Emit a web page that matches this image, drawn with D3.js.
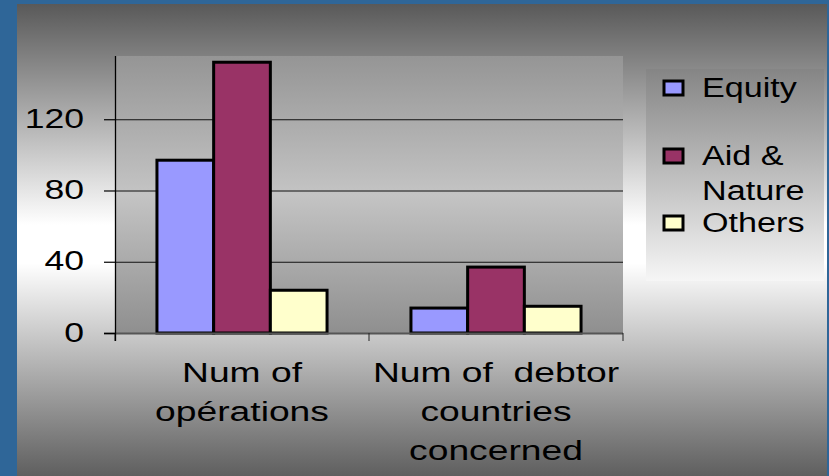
<!DOCTYPE html>
<html>
<head>
<meta charset="utf-8">
<script src="https://cdn.jsdelivr.net/npm/d3@7"></script>
<style>
  html, body { margin: 0; padding: 0; background: #2f6698; }
  svg { display: block; }
  text { font-family: "Liberation Sans", Arial, sans-serif; fill: #000; }
</style>
</head>
<body>
<svg id="chart" width="829" height="476"></svg>
<script>
// Chart data
const categories = ["Num of opérations", "Num of debtor countries concerned"];
const categoryLines = [["Num of", "opérations"], ["Num of  debtor", "countries", "concerned"]];
const seriesNames = ["Equity", "Aid & Nature", "Others"];
const seriesLegendLines = [["Equity"], ["Aid &", "Nature"], ["Others"]];
const equityValues = [97, 14];
const aidNatureValues = [152, 37];
const othersValues = [24, 15];
const yTickValues = [0, 40, 80, 120];
const seriesColors = ["#9999ff", "#993366", "#ffffcc"];

const seriesValues = [equityValues, aidNatureValues, othersValues];

const svg = d3.select("#chart");
const W = 829, H = 476;
const plot = { left: 115, top: 56, right: 623, bottom: 333 };
const FONT = 28, STRETCH = 1.27;

// Gradients
const defs = svg.append("defs");
function vGrad(id, stops) {
  const g = defs.append("linearGradient").attr("id", id)
    .attr("x1", 0).attr("y1", 0).attr("x2", 0).attr("y2", 1);
  stops.forEach(([o, c]) => g.append("stop").attr("offset", o).attr("stop-color", c));
}
vGrad("panelGrad", [[0, "#595959"], [0.46, "#ffffff"], [0.54, "#ffffff"], [1, "#595959"]]);
vGrad("plotGrad", [[0, "#959595"], [0.5, "#c4c4c4"], [1, "#8f8f8f"]]);
vGrad("legendGrad", [[0, "#858585"], [1, "#f6f6f6"]]);

// Blue frame and grey panel
svg.append("rect").attr("width", W).attr("height", H).attr("fill", "#2f6698");
svg.append("rect").attr("x", 17).attr("y", 4).attr("width", 810).attr("height", 480)
  .attr("fill", "url(#panelGrad)");

// Scales
const x0 = d3.scaleBand().domain(categories).range([plot.left, plot.right]).paddingInner(0).paddingOuter(0);
const x1 = d3.scaleBand().domain(seriesNames).range([0, x0.bandwidth()]).paddingInner(0).paddingOuter(0.74);
const y = d3.scaleLinear().domain([0, 155.5]).range([plot.bottom, plot.top]);

// Plot area
svg.append("rect").attr("x", plot.left).attr("y", plot.top)
  .attr("width", plot.right - plot.left).attr("height", plot.bottom - plot.top)
  .attr("fill", "url(#plotGrad)");

// Gridlines
svg.append("g").attr("transform", `translate(${plot.left},0)`)
  .call(d3.axisLeft(y).tickValues(yTickValues.filter(v => v > 0)).tickSize(-(plot.right - plot.left)).tickFormat(""))
  .call(g => g.select(".domain").remove())
  .call(g => g.selectAll("line").attr("stroke", "#111").attr("stroke-width", 1.2));

// Bars
const groups = svg.append("g").selectAll("g").data(categories).join("g")
  .attr("transform", c => `translate(${x0(c)},0)`);
groups.selectAll("rect")
  .data((c, ci) => seriesNames.map((s, si) => ({ s, si, v: seriesValues[si][ci] })))
  .join("rect")
  .attr("x", d => x1(d.s))
  .attr("y", d => y(d.v))
  .attr("width", x1.bandwidth())
  .attr("height", d => y(0) - y(d.v))
  .attr("fill", d => seriesColors[d.si])
  .attr("stroke", "#000")
  .attr("stroke-width", 3);

// Category axis line and tick marks
svg.append("line").attr("x1", plot.left - 11).attr("x2", plot.right)
  .attr("y1", y(0) + 0.5).attr("y2", y(0) + 0.5).attr("stroke", "#555").attr("stroke-width", 2);
const bounds = categories.map(c => x0(c)).concat([x0(categories[categories.length - 1]) + x0.bandwidth()]);
svg.append("g").selectAll("line").data(bounds).join("line")
  .attr("x1", d => d).attr("x2", d => d)
  .attr("y1", y(0)).attr("y2", y(0) + 8)
  .attr("stroke", "#222").attr("stroke-width", 1);

// Value axis
const yAxis = svg.append("g").attr("transform", `translate(${plot.left},0)`)
  .call(d3.axisLeft(y).tickValues(yTickValues).tickSize(11).tickPadding(0).tickSizeOuter(0));
yAxis.select(".domain").attr("stroke", "#000").attr("stroke-width", 1.3)
  .attr("d", `M0.5,${plot.top}V${plot.bottom + 8}`);
yAxis.selectAll(".tick line").attr("stroke", "#000").attr("stroke-width", 1.2);
yAxis.selectAll(".tick text")
  .attr("x", 0).attr("dy", null).attr("y", 8)
  .attr("text-anchor", "end")
  .attr("transform", `translate(-31,0) scale(${STRETCH},1)`)
  .style("font-size", FONT + "px").style("font-family", "'Liberation Sans', Arial, sans-serif").attr("fill", "#000");

// Category labels
const labelG = svg.append("g").selectAll("g").data(categories).join("g")
  .attr("transform", c => `translate(${x0(c) + x0.bandwidth() / 2},0)`);
labelG.each(function (c, ci) {
  d3.select(this).selectAll("text").data(categoryLines[ci]).join("text")
    .attr("text-anchor", "middle")
    .attr("transform", (t, i) => `translate(0,${382 + i * 39}) scale(1.33,1)`)
    .style("font-size", FONT + "px")
    .style("white-space", "pre")
    .text(t => t);
});

// Legend
const legend = svg.append("g");
legend.append("rect").attr("x", 646).attr("y", 69).attr("width", 178).attr("height", 212)
  .attr("fill", "url(#legendGrad)");
const legendBaselines = [97, 165, 232];
seriesNames.forEach((s, i) => {
  const by = legendBaselines[i];
  legend.append("rect").attr("x", 664).attr("y", by - 16).attr("width", 19).attr("height", 14)
    .attr("fill", seriesColors[i]).attr("stroke", "#000").attr("stroke-width", 3);
  seriesLegendLines[i].forEach((t, j) => {
    legend.append("text")
      .attr("transform", `translate(702,${by + j * 35}) scale(1.22,1)`)
      .style("font-size", FONT + "px")
      .text(t);
  });
});
</script>
</body>
</html>
